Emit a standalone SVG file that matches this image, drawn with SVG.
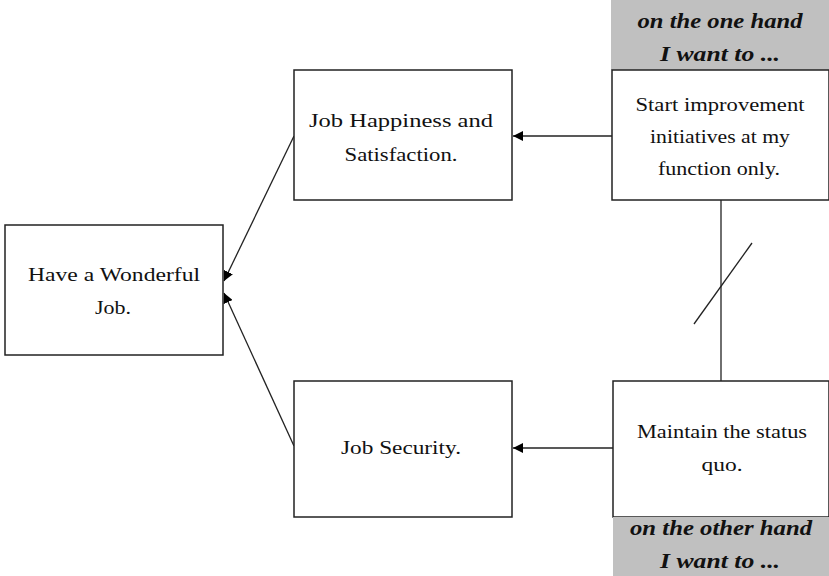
<svg xmlns="http://www.w3.org/2000/svg" width="829" height="576" viewBox="0 0 829 576">
<defs>
<style>
.box{fill:#fff;stroke:#222;stroke-width:1.5}
.hdr{fill:#c0c0c0;stroke:none}
.t{font-family:"Liberation Serif","Times New Roman",Tinos,"DejaVu Serif",serif;font-size:19px;fill:#111;text-anchor:middle}
.h{font-family:"Liberation Serif","Times New Roman",Tinos,"DejaVu Serif",serif;font-size:20px;font-weight:bold;font-style:italic;fill:#111;text-anchor:middle}
.ln{stroke:#222;stroke-width:1.3;fill:none}
</style>
<marker id="ah" viewBox="0 0 10 10" refX="10" refY="5" markerWidth="10" markerHeight="10" markerUnits="userSpaceOnUse" orient="auto">
<path d="M0,0 L10,5 L0,10 z" fill="#000"/>
</marker>
</defs>
<rect width="829" height="576" fill="#fff"/>
<g id="connectors">
<line class="ln" x1="612" y1="136" x2="513" y2="136" marker-end="url(#ah)"/>
<line class="ln" x1="613" y1="448" x2="513" y2="448" marker-end="url(#ah)"/>
<line class="ln" x1="294" y1="136" x2="224" y2="281" marker-end="url(#ah)"/>
<line class="ln" x1="294" y1="446" x2="224" y2="293" marker-end="url(#ah)"/>
<line class="ln" x1="721" y1="200" x2="721" y2="381"/>
<line class="ln" x1="694" y1="324" x2="752" y2="243"/>
</g>
<g id="node-wonderful">
<rect class="box" x="5" y="225" width="218" height="130"/>
<text class="t" x="114" y="281" textLength="172" lengthAdjust="spacingAndGlyphs">Have a Wonderful</text>
<text class="t" x="113" y="314" textLength="36" lengthAdjust="spacingAndGlyphs">Job.</text>
</g>
<g id="node-happiness">
<rect class="box" x="294" y="70" width="218" height="130"/>
<text class="t" x="401" y="127" textLength="184" lengthAdjust="spacingAndGlyphs">Job Happiness and</text>
<text class="t" x="401" y="161" textLength="113" lengthAdjust="spacingAndGlyphs">Satisfaction.</text>
</g>
<g id="node-security">
<rect class="box" x="294" y="381" width="218" height="136"/>
<text class="t" x="401" y="454" textLength="120" lengthAdjust="spacingAndGlyphs">Job Security.</text>
</g>
<g id="node-start">
<rect class="hdr" x="611" y="0" width="218" height="70"/>
<text class="h" x="720" y="28" textLength="165" lengthAdjust="spacingAndGlyphs">on the one hand</text>
<text class="h" x="720" y="61" textLength="120" lengthAdjust="spacingAndGlyphs">I want to ...</text>
<rect class="box" x="612" y="70" width="217" height="130"/>
<text class="t" x="720" y="111" textLength="169" lengthAdjust="spacingAndGlyphs">Start improvement</text>
<text class="t" x="720" y="143" textLength="140" lengthAdjust="spacingAndGlyphs">initiatives at my</text>
<text class="t" x="719" y="175" textLength="122" lengthAdjust="spacingAndGlyphs">function only.</text>
</g>
<g id="node-maintain">
<rect class="box" x="613" y="381" width="216" height="136"/>
<text class="t" x="722" y="438" textLength="170" lengthAdjust="spacingAndGlyphs">Maintain the status</text>
<text class="t" x="722" y="471" textLength="41" lengthAdjust="spacingAndGlyphs">quo.</text>
<rect class="hdr" x="613" y="517" width="216" height="59"/>
<text class="h" x="721" y="535" textLength="182" lengthAdjust="spacingAndGlyphs">on the other hand</text>
<text class="h" x="720" y="568" textLength="120" lengthAdjust="spacingAndGlyphs">I want to ...</text>
</g>
</svg>
